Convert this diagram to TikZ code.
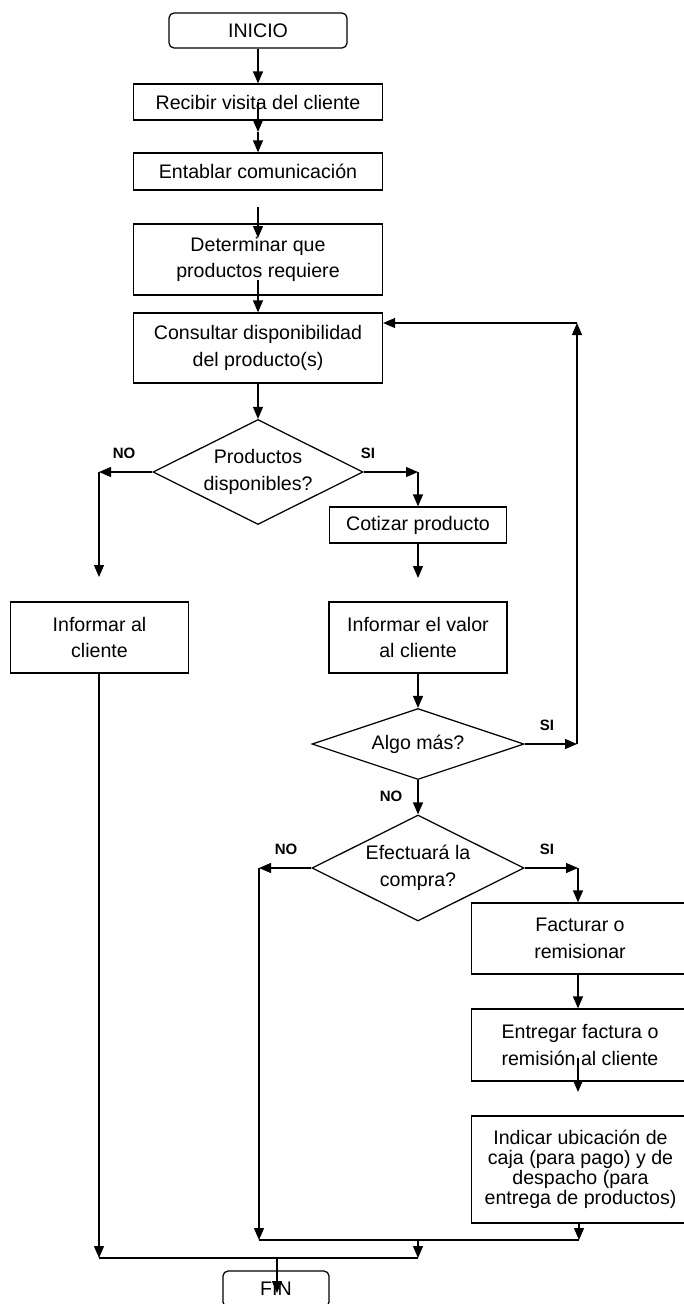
\documentclass[tikz,border=0pt]{standalone}
\usepackage{fontspec}
\setmainfont{Liberation Sans}
\usetikzlibrary{arrows.meta,shapes.geometric}
\begin{document}
\begin{tikzpicture}[x=1pt,y=-1pt,
  line width=1.25pt,
  box/.style={draw, rectangle, inner sep=0pt, align=center,
    font=\fontsize{19.6}{26.5}\selectfont},
  term/.style={box, rounded corners=5pt},
  decision/.style={draw, diamond, aspect=2, inner sep=0pt, align=center,
    font=\fontsize{19.6}{26.5}\selectfont},
  lbl/.style={font=\bfseries\fontsize{15}{18}\selectfont, inner sep=0pt},
  arr/.style={-{Triangle[length=12pt,width=10pt]}},
]
\useasboundingbox (0,0) rectangle (683,1304);

% process steps
\node[term, minimum width=178pt, minimum height=35pt] (inicio) at (258,30.5) {INICIO};
\node[box, minimum width=249pt, minimum height=36pt] (recibir) at (258,102) {Recibir visita del cliente};
\node[box, minimum width=249pt, minimum height=37pt] (entablar) at (258,171.5) {Entablar comunicación};
\node[box, minimum width=249pt, minimum height=71pt] (determinar) at (258,259.5) {Determinar que\\productos requiere};
\node[box, minimum width=249pt, minimum height=70pt] (consultar) at (258,348) {Consultar disponibilidad\\del producto(s)};
\node[decision, minimum width=210pt, minimum height=105pt] (disp) at (258,472) {Productos\\disponibles?};
\node[box, minimum width=177.5pt, minimum height=71pt] (infcli) at (99.5,637.5) {Informar al\\cliente};
\node[box, minimum width=177pt, minimum height=36pt] (cotizar) at (418,525) {Cotizar producto};
\node[box, minimum width=178pt, minimum height=71pt] (infval) at (418,637.5) {Informar el valor\\al cliente};
\node[decision, minimum width=212pt, minimum height=71pt] (algo) at (418,744) {Algo más?};
\node[decision, minimum width=212pt, minimum height=106pt] (compra) at (418,868) {Efectuará la\\compra?};
\node[box, minimum width=217pt, minimum height=71pt] (facturar) at (580,938.5) {Facturar o\\remisionar};
\node[box, minimum width=217pt, minimum height=72pt] (entregar) at (580,1045) {Entregar factura o\\remisión al cliente};
\node[box, minimum width=218pt, minimum height=107pt, font=\fontsize{19.6}{20}\selectfont] (indicar) at (580.5,1169.5) {Indicar ubicación de\\caja (para pago) y de\\despacho (para\\entrega de productos)};
\node[term, minimum width=106pt, minimum height=36pt] (fin) at (276,1289) {FIN};

% branch labels
\node[lbl] (lno1) at (124,453) {NO};
\node[lbl] (lsi1) at (368,453) {SI};
\node[lbl] (lsi2) at (547,725) {SI};
\node[lbl] (lno2) at (391,796) {NO};
\node[lbl] (lno3) at (286,849) {NO};
\node[lbl] (lsi3) at (547,849) {SI};

% bends and free ends of the connectors
\coordinate (m1) at (258,132);
\coordinate (a1) at (258,207);
\coordinate (a2) at (258,238);
\coordinate (b1) at (258,280);
\coordinate (n1) at (99,472);
\coordinate (n2) at (99,577);
\coordinate (s1) at (418,472);
\coordinate (c1) at (418,578);
\coordinate (r1) at (577,744);
\coordinate (r2) at (577,323);
\coordinate (l1) at (259,868);
\coordinate (l2) at (259,1240);
\coordinate (q1) at (578,868);
\coordinate (e1) at (578,1058);
\coordinate (e2) at (578,1092);
\coordinate (j1) at (579,1240);
\coordinate (k1) at (418,1240);
\coordinate (k2) at (418,1258);
\coordinate (k3) at (99,1258);
\coordinate (k4) at (277,1258);
\coordinate (k5) at (277,1293);

% connectors
\draw[arr] (inicio) -- (recibir);
\draw[arr] (recibir.center) -- (m1);
\draw[arr] (m1) -- (entablar.north);
\draw[arr] (a1) -- (a2);
\draw[arr] (b1) -- (consultar.north);
\draw[arr] (consultar) -- (disp);
\draw[arr] (disp.west) -- (n1);
\draw[arr] (n1) -- (n2);
\draw[arr] (disp.east) -- (s1);
\draw[arr] (s1) -- (cotizar.north);
\draw[arr] (cotizar.south) -- (c1);
\draw[arr] (infval) -- (algo);
\draw[arr] (algo.east) -- (r1);
\draw[arr] (r1) -- (r2);
\draw[arr] (r2) -- (r2 -| consultar.east);
\draw[arr] (algo) -- (compra);
\draw[arr] (compra.west) -- (l1);
\draw[arr] (l1) -- (l2);
\draw[arr] (compra.east) -- (q1);
\draw[arr] (q1) -- (q1 |- facturar.north);
\draw[arr] (q1 |- facturar.south) -- (q1 |- entregar.north);
\draw[arr] (e1) -- (e2);
\draw[arr] (j1 |- indicar.south) -- (j1);
\draw (l2) -- (j1);
\draw[arr] (k1) -- (k2);
\draw[arr] (k3 |- infcli.south) -- (k3);
\draw (k3) -- (k2);
\draw[arr] (k4) -- (k5);
\end{tikzpicture}
\end{document}
